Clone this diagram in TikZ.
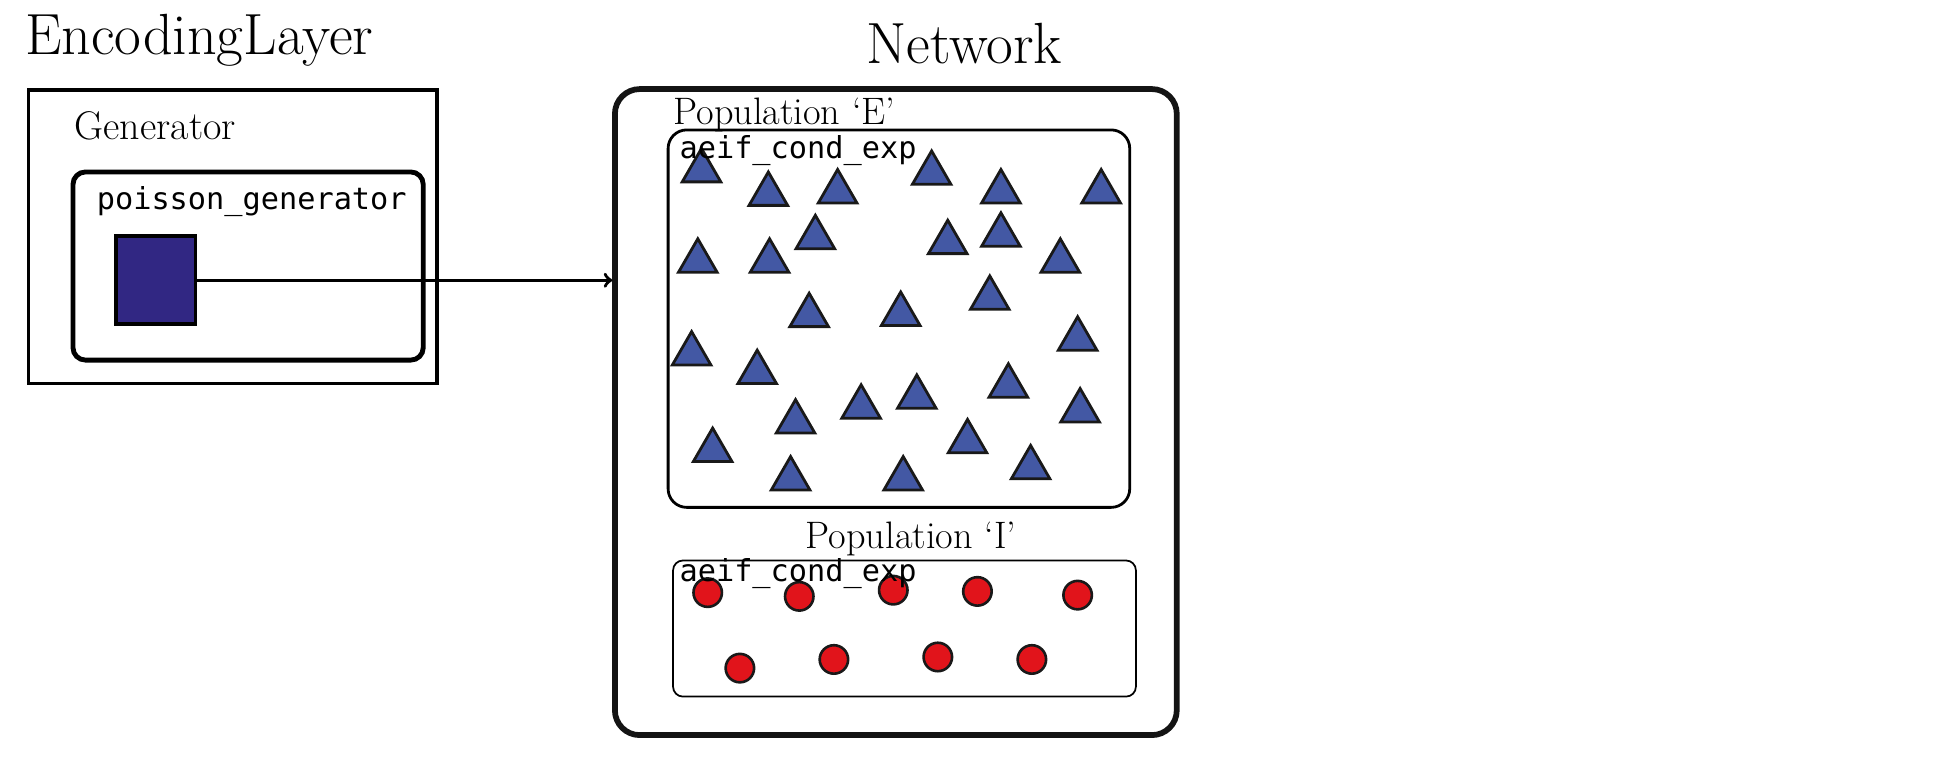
\documentclass[tikz,border=0pt]{standalone}
\usepackage{fontspec}
\newfontfamily\codefont{DejaVu Sans Mono}
\usetikzlibrary{shapes.geometric,arrows,positioning}
\definecolor{gennavy}{RGB}{49,39,131}
\definecolor{exblue}{RGB}{67,88,164}
\definecolor{inred}{RGB}{225,20,27}
\definecolor{netdark}{RGB}{20,20,20}
\tikzset{title/.style={inner sep=0,anchor=base west,font=\fontsize{33.4}{40}\selectfont}}
\tikzset{sublabel/.style={inner sep=0,anchor=base west,font=\fontsize{22}{26}\selectfont}}
\tikzset{model/.style={inner sep=0,anchor=base west,font=\codefont\fontsize{17.4}{20}\selectfont}}
\tikzset{layerbox/.style={rectangle,draw=black,line width=2.1pt,anchor=north west,inner sep=0,outer sep=0}}
\tikzset{devicebox/.style={rectangle,rounded corners=0.25cm,draw=black,line width=2.8pt,anchor=north west,inner sep=0,outer sep=0}}
\tikzset{netbox/.style={rectangle,rounded corners=0.5cm,draw=netdark,line width=3.3pt,anchor=north west,inner sep=0,outer sep=0}}
\tikzset{popbox/.style={rectangle,draw=black,anchor=north west,inner sep=0,outer sep=0}}
\tikzset{source/.style={rectangle,draw=black,fill=gennavy,line width=2.1pt,anchor=north west,inner sep=0,outer sep=0}}
\tikzset{excit/.style={regular polygon,regular polygon sides=3,draw=black!90,fill=exblue,line width=1.6pt,minimum size=0.9cm,inner sep=0}}
\tikzset{inhib/.style={circle,draw=black!90,fill=inred,line width=1.5pt,minimum size=0.575cm,inner sep=0}}
\tikzset{toArrow/.style={->,line width=2pt,shorten >=1.5pt}}

\begin{document}
\begin{tikzpicture}[x=0.025cm,y=-0.025cm]
\useasboundingbox (0,0) rectangle (1568,631);

% encoding layer
\node (gen) [layerbox,minimum width=8.25cm,minimum height=5.925cm] at (23,73) {};
\node (pois) [devicebox,minimum width=7.075cm,minimum height=3.8cm] at (59,139) {};
\node (src) [source,minimum width=1.6cm,minimum height=1.775cm] at (94,191) {};

% network
\node (net) [netbox,minimum width=11.35cm,minimum height=13.05cm] at (497,72) {};
\node (popE) [popbox,rounded corners=0.375cm,line width=1.6pt,minimum width=9.325cm,minimum height=7.625cm] at (540,105) {};
\node (popI) [popbox,rounded corners=0.2cm,line width=1pt,minimum width=9.35cm,minimum height=2.75cm] at (544,453) {};

\foreach \x/\y [count=\i] in {567/138,621/157,677/155,753/140,809/155,890/155,564/211,622/211,659/192,766/196,809/190,857/211,654/255,728/254,800/241,871/274,559/286,612/301,643/341,696/329,741/321,815/312,873/332,576/364,639/387,730/387,782/357,833/378}
	\node (e\i) [excit] at (\x,\y) {};
\foreach \x/\y [count=\i] in {572/479,646/482,722/477,790/478,871/481,598/540,674/533,758/531,834/533}
	\node (n\i) [inhib] at (\x,\y) {};

\draw [toArrow] (src.east) -- (src.east -| net.west);

% labels
\node (lblEnc) [title] at (20,44) {EncodingLayer};
\node (lblGen) [sublabel,font=\fontsize{23}{27}\selectfont] at (60,113) {Generator};
\node (lblPois) [model] at (78,169) {poisson\_generator};
\node (lblNet) [title] at (700,51) {Network};
\node (lblPopE) [sublabel] at (544,101) {Population `E'};
\node (lblCellE) [model] at (549,128) {aeif\_cond\_exp};
\node (lblPopI) [sublabel] at (651,443) {Population `I'};
\node (lblCellI) [model] at (549,470) {aeif\_cond\_exp};
\end{tikzpicture}
\end{document}
